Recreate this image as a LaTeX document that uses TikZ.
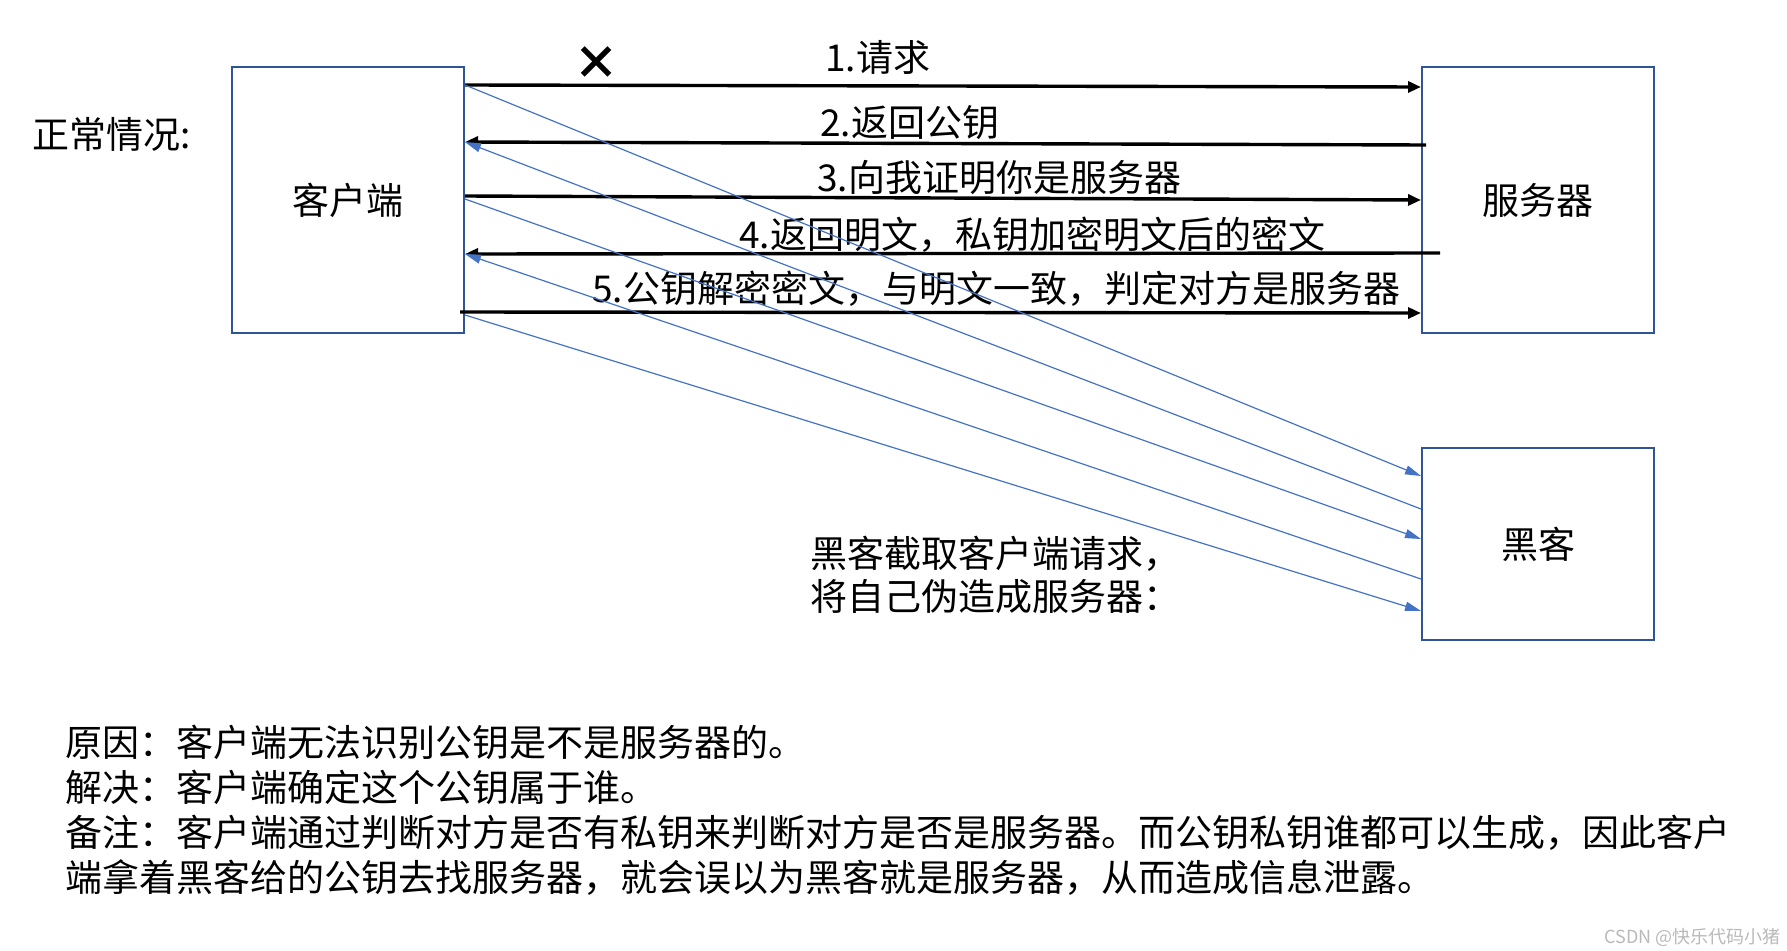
\documentclass[tikz,border=0pt]{standalone}
\usepackage{fontspec}
\setmainfont{Noto Sans CJK SC}
\usepackage{xcolor}
\usetikzlibrary{arrows.meta}
\usetikzlibrary{positioning}

\definecolor{boxblue}{HTML}{2F5597}
\definecolor{spyblue}{HTML}{4472C4}

\begin{document}
\begin{tikzpicture}
    [x=1pt, y=-1pt,
      % style for the three boxes
      box/.style={rectangle, draw=boxblue, line width=2pt, minimum width=232pt, inner sep=0pt, font=\fontsize{37}{40}\selectfont},
      % style for the labels
      lbl/.style={anchor=west, inner sep=0pt, font=\fontsize{37}{40}\selectfont},
      % black messages
      msg/.style={line width=3.4pt, -{Triangle[length=13pt,width=11pt]}},
      % blue lines to the hacker
      spy/.style={draw=spyblue, line width=1.2pt, -{Triangle[length=16pt,width=9pt]}}]
    \useasboundingbox (0,0) rectangle (1787,950);

    % Knoten
    \node[box, minimum height=266pt] (client) at (348,200) {客户端};
    \node[box, minimum height=266pt] (server) at (1538,200) {服务器};
    \node[box, minimum height=192pt] (hacker) at (1538,544) {黑客};

    \node[lbl] (normal) at (32,134) {正常情况:};
    \node[lbl] (m1) at (825,57) {1.请求};
    \node[lbl] (m2) at (820,123) {2.返回公钥};
    \node[lbl] (m3) at (817,178) {3.向我证明你是服务器};
    \node[lbl] (m4) at (739,235) {4.返回明文，私钥加密明文后的密文};
    \node[lbl] (m5) at (592,289) {5.公钥解密密文，与明文一致，判定对方是服务器};
    \node[inner sep=0pt, font=\fontsize{46}{46}\selectfont\bfseries] (cross) at (596,63) {×};

    \node[lbl, align=left, font=\fontsize{37}{43}\selectfont] (note) at (810,575) {黑客截取客户端请求，\\将自己伪造成服务器：};

    \node[lbl, align=left, font=\fontsize{37}{45}\selectfont] (reason) at (65,810)
      {原因：客户端无法识别公钥是不是服务器的。\\
       解决：客户端确定这个公钥属于谁。\\
       备注：客户端通过判断对方是否有私钥来判断对方是否是服务器。而公钥私钥谁都可以生成，因此客户\\
       端拿着黑客给的公钥去找服务器，就会误以为黑客就是服务器，从而造成信息泄露。};

    \node[anchor=east, inner sep=0pt, text=gray!55, font=\fontsize{18}{18}\selectfont] (mark) at (1781,937) {CSDN @快乐代码小猪};

    % Kanten
    \draw[msg] ([yshift=-19pt]client.north east) -- ([yshift=-21pt]server.north west);
    \draw[msg] ([yshift=-79pt,xshift=5pt]server.north west) -- ([yshift=-76pt]client.north east);
    \draw[msg] ([yshift=-130pt]client.north east) -- ([yshift=-134pt]server.north west);
    \draw[msg] ([yshift=-187pt,xshift=19pt]server.north west) -- ([yshift=-188pt]client.north east);
    \draw[msg] ([yshift=-246pt,xshift=-5pt]client.north east) -- ([yshift=-247pt]server.north west);

    \draw[spy] ([yshift=-19pt]client.north east) -- ([yshift=-29pt]hacker.north west);
    \draw[spy] ([yshift=-62pt]hacker.north west) -- ([yshift=-76pt]client.north east);
    \draw[spy] ([yshift=-133pt]client.north east) -- ([yshift=-92pt]hacker.north west);
    \draw[spy] ([yshift=-132pt]hacker.north west) -- ([yshift=-188pt]client.north east);
    \draw[spy] ([yshift=-249pt]client.north east) -- ([yshift=-164pt]hacker.north west);

  \end{tikzpicture}
\end{document}
